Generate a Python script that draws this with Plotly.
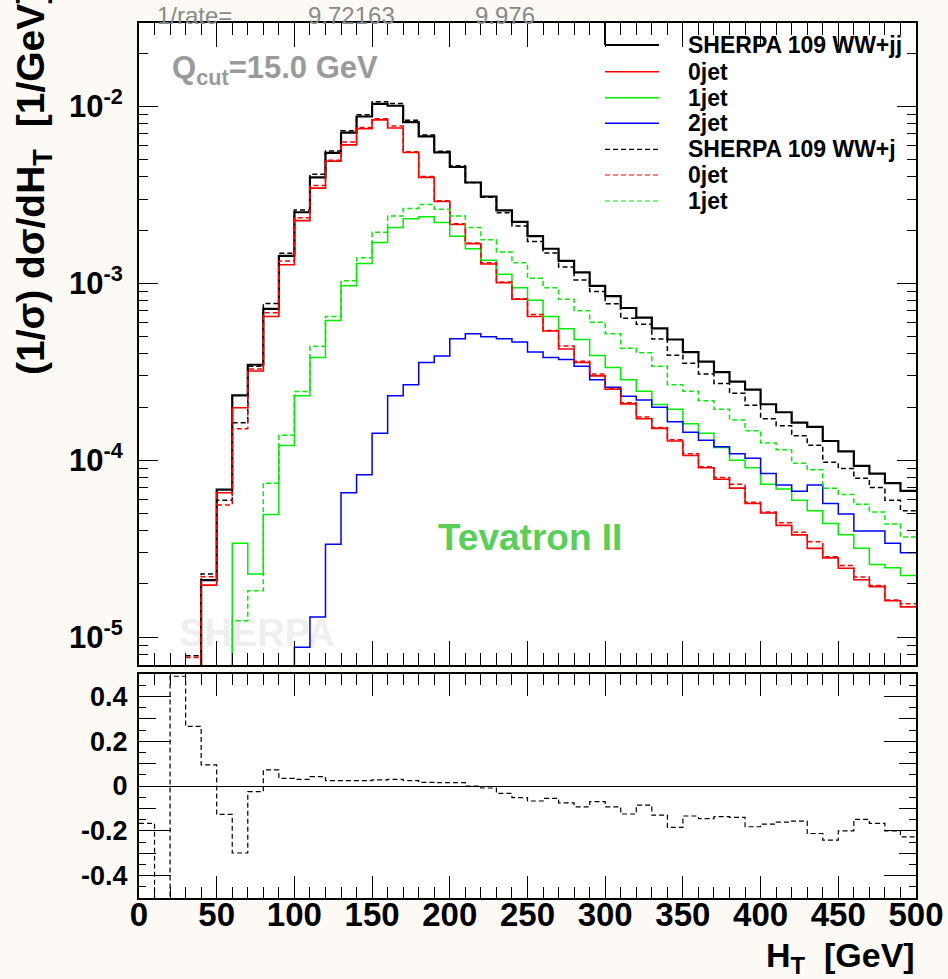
import plotly.graph_objects as go

# ---------------- data ----------------
N = None
bin_edges = list(range(0, 510, 10))          # H_T bin edges [GeV], 10 GeV bins

# SHERPA 109 WW+jj : total and jet multiplicities (solid)
ww_jj_total = [N, N, N, 6.2e-6, 2.1e-5, 6.82e-5, 2.33e-4, 3.47e-4, 7.18e-4, 1.43e-3,
               2.525e-3, 3.975e-3, 5.47e-3, 7.12e-3, 8.78e-3, 1.036e-2, 1.01e-2, 8.15e-3, 6.78e-3, 5.50e-3,
               4.55e-3, 3.72e-3, 3.10e-3, 2.59e-3, 2.23e-3, 1.85e-3, 1.57e-3, 1.34e-3, 1.154e-3, 9.69e-4,
               8.47e-4, 7.26e-4, 6.41e-4, 5.57e-4, 4.82e-4, 4.09e-4, 3.61e-4, 3.155e-4, 2.785e-4, 2.51e-4,
               2.075e-4, 1.87e-4, 1.633e-4, 1.546e-4, 1.286e-4, 1.124e-4, 9.30e-5, 8.41e-5, 7.43e-5, 6.72e-5]
ww_jj_0jet = [N, N, N, 6.0e-6, 1.97e-5, 6.56e-5, 1.984e-4, 3.20e-4, 6.50e-4, 1.275e-3,
              2.263e-3, 3.457e-3, 4.90e-3, 6.07e-3, 7.49e-3, 8.40e-3, 7.56e-3, 5.50e-3, 3.975e-3, 2.904e-3,
              2.152e-3, 1.677e-3, 1.288e-3, 1.0085e-3, 8.14e-4, 6.50e-4, 5.38e-4, 4.256e-4, 3.575e-4, 3.00e-4,
              2.522e-4, 2.086e-4, 1.717e-4, 1.516e-4, 1.286e-4, 1.064e-4, 9.07e-5, 7.81e-5, 6.96e-5, 5.70e-5,
              5.04e-5, 4.29e-5, 3.79e-5, 3.18e-5, 2.81e-5, 2.455e-5, 2.114e-5, 1.932e-5, 1.607e-5, 1.484e-5]
ww_jj_1jet = [N, N, N, N, N, 3.0e-6, 3.40e-5, 2.28e-5, 4.94e-5, 1.211e-4,
              2.316e-4, 3.81e-4, 6.18e-4, 9.69e-4, 1.294e-3, 1.702e-3, 2.068e-3, 2.32e-3, 2.378e-3, 2.206e-3,
              1.85e-3, 1.57e-3, 1.353e-3, 1.125e-3, 9.45e-4, 8.02e-4, 6.50e-4, 5.54e-4, 4.82e-4, 3.91e-4,
              3.35e-4, 2.855e-4, 2.459e-4, 2.065e-4, 1.945e-4, 1.609e-4, 1.421e-4, 1.181e-4, 1.002e-4, 9.07e-5,
              7.32e-5, 6.89e-5, 5.94e-5, 5.19e-5, 4.40e-5, 3.79e-5, 3.18e-5, 2.58e-5, 2.467e-5, 2.234e-5]
ww_jj_2jet = [N, N, N, N, N, N, N, N, N, 4.0e-6,
              8.78e-6, 1.30e-5, 3.35e-5, 6.56e-5, 8.29e-5, 1.421e-4, 2.316e-4, 2.677e-4, 3.575e-4, 3.89e-4,
              4.87e-4, 5.195e-4, 4.99e-4, 4.87e-4, 4.66e-4, 4.09e-4, 3.81e-4, 3.72e-4, 3.40e-4, 2.855e-4,
              2.585e-4, 2.305e-4, 2.193e-4, 1.995e-4, 1.65e-4, 1.442e-4, 1.299e-4, 1.193e-4, 1.091e-4, 1.027e-4,
              8.41e-5, 7.25e-5, 6.69e-5, 7.25e-5, 5.70e-5, 4.98e-5, 3.98e-5, 3.98e-5, 3.40e-5, 3.00e-5]

# SHERPA 109 WW+j : total and jet multiplicities (dashed)
ww_j_total = [N, N, N, 7.87e-6, 2.28e-5, 5.94e-5, 1.633e-4, 3.40e-4, 7.70e-4, 1.479e-3,
              2.60e-3, 4.14e-3, 5.60e-3, 7.29e-3, 8.99e-3, 1.064e-2, 1.040e-2, 8.35e-3, 6.89e-3, 5.58e-3,
              4.62e-3, 3.72e-3, 3.07e-3, 2.505e-3, 2.114e-3, 1.726e-3, 1.484e-3, 1.240e-3, 1.047e-3, 9.01e-4,
              7.68e-4, 6.35e-4, 5.87e-4, 4.85e-4, 3.93e-4, 3.54e-4, 3.08e-4, 2.72e-4, 2.395e-4, 2.05e-4,
              1.72e-4, 1.57e-4, 1.377e-4, 1.218e-4, 9.75e-5, 8.99e-5, 7.91e-5, 7.01e-5, 5.94e-5, 5.19e-5]
ww_j_0jet = [N, N, N, 7.67e-6, 2.2e-5, 5.59e-5, 1.509e-4, 3.28e-4, 6.83e-4, 1.34e-3,
             2.354e-3, 3.58e-3, 4.97e-3, 6.29e-3, 7.60e-3, 8.53e-3, 7.75e-3, 5.55e-3, 4.02e-3, 2.93e-3,
             2.174e-3, 1.694e-3, 1.307e-3, 1.0186e-3, 8.2e-4, 6.67e-4, 5.41e-4, 4.43e-4, 3.63e-4, 3.08e-4,
             2.546e-4, 2.117e-4, 1.760e-4, 1.531e-4, 1.305e-4, 1.091e-4, 9.21e-5, 8.00e-5, 7.32e-5, 5.79e-5,
             5.11e-5, 4.44e-5, 3.92e-5, 3.46e-5, 2.85e-5, 2.54e-5, 2.19e-5, 1.96e-5, 1.623e-5, 1.544e-5]
ww_j_1jet = [N, N, N, N, N, 3.0e-6, 1.24e-5, 1.83e-5, 7.43e-5, 1.386e-4,
             2.45e-4, 4.41e-4, 6.50e-4, 1.034e-3, 1.395e-3, 1.949e-3, 2.402e-3, 2.654e-3, 2.79e-3, 2.628e-3,
             2.402e-3, 2.068e-3, 1.763e-3, 1.503e-3, 1.307e-3, 1.071e-3, 9.45e-4, 8.14e-4, 7.01e-4, 6.03e-4,
             5.195e-4, 4.30e-4, 4.05e-4, 3.40e-4, 2.677e-4, 2.459e-4, 2.17e-4, 1.945e-4, 1.692e-4, 1.471e-4,
             1.254e-4, 1.147e-4, 9.63e-5, 8.845e-5, 6.96e-5, 6.40e-5, 5.645e-5, 5.11e-5, 4.36e-5, 3.68e-5]

# lower panel: relative deviation WW+j vs WW+jj
ratio_dev = [-0.167, -0.6, 0.49, 0.266, 0.094, -0.127, -0.299, -0.025, 0.072, 0.034,
             0.03, 0.042, 0.024, 0.024, 0.024, 0.027, 0.03, 0.024, 0.016, 0.015,
             0.015, 0.0, -0.009, -0.033, -0.052, -0.067, -0.055, -0.075, -0.093, -0.07,
             -0.093, -0.125, -0.085, -0.13, -0.185, -0.134, -0.146, -0.137, -0.14, -0.182,
             -0.17, -0.161, -0.157, -0.212, -0.242, -0.2, -0.149, -0.167, -0.2, -0.227]

legend_labels = ["SHERPA 109 WW+jj", "0jet", "1jet", "2jet", "SHERPA 109 WW+j", "0jet", "1jet"]
x_tick_vals = list(range(0, 501, 50))
y_tick_vals = [1e-5, 1e-4, 1e-3, 1e-2]
y_tick_text = ["10<sup>-5</sup>", "10<sup>-4</sup>", "10<sup>-3</sup>", "10<sup>-2</sup>"]
r_tick_vals = [-0.4, -0.2, 0, 0.2, 0.4]
r_tick_text = ["-0.4", "-0.2", "0", "0.2", "0.4"]
rate_texts = ["1/rate=", "9.72163", "9.976"]

for s in (ww_jj_total, ww_jj_0jet, ww_jj_1jet, ww_jj_2jet, ww_j_total, ww_j_0jet, ww_j_1jet, ratio_dev):
    assert len(s) == len(bin_edges) - 1

# ---------------- layout helpers ----------------
W, H = 948, 979
L, R, T, B = 139, 32, 23, 81
PW, PH = W - L - R, H - T - B
FONT = "Liberation Sans, Arial, Helvetica, sans-serif"


def px(xp):
    return (xp - L) / PW


def py(yp):
    return (H - B - yp) / PH


MAIN_BOTTOM = 665
RATIO_TOP = 674

RED, GREEN, BLUE = "#ff0000", "#00ee00", "#0000ff"
DASH = "5px,3px"

series = [
    (ww_jj_total, "black", 2.2, "solid"),
    (ww_jj_0jet, RED, 1.6, "solid"),
    (ww_jj_1jet, GREEN, 1.5, "solid"),
    (ww_jj_2jet, BLUE, 1.5, "solid"),
    (ww_j_total, "black", 1.5, DASH),
    (ww_j_0jet, RED, 1.5, DASH),
    (ww_j_1jet, GREEN, 1.5, DASH),
]

fig = go.Figure()


def step_y(vals):
    return list(vals) + [vals[-1]]


for vals, col, w, dash in series:
    fig.add_trace(go.Scatter(x=bin_edges, y=step_y(vals), mode="lines", line_shape="hv",
                             line=dict(color=col, width=w, dash=dash), xaxis="x", yaxis="y",
                             hoverinfo="skip"))

fig.add_trace(go.Scatter(x=bin_edges, y=step_y(ratio_dev), mode="lines", line_shape="hv",
                         line=dict(color="black", width=1.2, dash=DASH), xaxis="x2", yaxis="y2",
                         hoverinfo="skip"))
# empty trace to carry the medium-tick overlay axis of the lower panel
fig.add_trace(go.Scatter(x=[], y=[], xaxis="x2", yaxis="y3", hoverinfo="skip"))

tick_common = dict(ticks="inside", tickwidth=1, tickcolor="black", showline=True, linewidth=2,
                   linecolor="black", mirror="ticks", showgrid=False, zeroline=False)
minor_log = [m * 10.0 ** k for k in range(-6, -1) for m in range(2, 10)]
minor_ratio = [-0.45, -0.35, -0.25, -0.15, -0.05, 0.05, 0.15, 0.25, 0.35, 0.45]

fig.update_layout(
    width=W, height=H,
    margin=dict(l=L, r=R, t=T, b=B, pad=0, autoexpand=False),
    paper_bgcolor="#fdf9f5", plot_bgcolor="white", showlegend=False,
    font=dict(family=FONT, color="black"),
    xaxis=dict(domain=[0, 1], anchor="y", range=[0, 500], showticklabels=False,
               tickmode="array", tickvals=x_tick_vals, ticklen=24,
               minor=dict(ticks="inside", dtick=10, tick0=0, ticklen=12, tickwidth=1, tickcolor="black"),
               **tick_common),
    yaxis=dict(domain=[py(MAIN_BOTTOM), 1], anchor="x", type="log", range=[-5.157, -1.528],
               tickmode="array", tickvals=y_tick_vals, ticktext=y_tick_text, ticklen=19,
               tickfont=dict(family=FONT, size=31, color="black", weight="bold"), ticklabelstandoff=8,
               minor=dict(ticks="inside", tickmode="array", tickvals=minor_log, ticklen=9,
                          tickwidth=1, tickcolor="black"),
               **tick_common),
    xaxis2=dict(domain=[0, 1], anchor="y2", range=[0, 500], tickmode="array", tickvals=x_tick_vals,
                ticktext=[str(v) for v in x_tick_vals], ticklen=22,
                tickfont=dict(family=FONT, size=33, color="black", weight="bold"), ticklabelstandoff=-14,
                minor=dict(ticks="inside", dtick=10, tick0=0, ticklen=11, tickwidth=1, tickcolor="black"),
                **tick_common),
    yaxis2=dict(domain=[0, py(RATIO_TOP)], anchor="x2", range=[-0.5, 0.5], tickmode="array",
                tickvals=r_tick_vals, ticktext=r_tick_text, ticklen=32,
                tickfont=dict(family=FONT, size=27, color="black", weight="bold"), ticklabelstandoff=4,
                minor=dict(ticks="inside", tickmode="array", tickvals=minor_ratio, ticklen=7,
                           tickwidth=1, tickcolor="black"),
                ticks="inside", tickwidth=1, tickcolor="black", showline=True, linewidth=2,
                linecolor="black", mirror="ticks", showgrid=False,
                zeroline=True, zerolinecolor="black", zerolinewidth=1),
    yaxis3=dict(overlaying="y2", anchor="x2", side="left", range=[-0.5, 0.5], tickmode="array",
                tickvals=[-0.3, -0.1, 0.1, 0.3], ticks="inside", ticklen=17, tickwidth=1,
                tickcolor="black", showticklabels=False, showline=False, mirror="ticks",
                showgrid=False, zeroline=False),
)

ann = []
# "1/rate=" line at the very top
for txt, xl in zip(rate_texts, (155, 306, 473)):
    ann.append(dict(text=txt, xref="paper", yref="paper", x=px(xl), y=py(15), xanchor="left",
                    yanchor="middle", showarrow=False,
                    font=dict(family=FONT, size=24, color="#8a8a8a")))
ann.append(dict(text="Q<sub>cut</sub>=15.0 GeV", xref="paper", yref="paper", x=px(170), y=py(70),
                xanchor="left", yanchor="middle", showarrow=False,
                font=dict(family=FONT, size=31, color="#9a9a9a", weight="bold")))
ann.append(dict(text="Tevatron II", xref="paper", yref="paper", x=px(436), y=py(537),
                xanchor="left", yanchor="middle", showarrow=False,
                font=dict(family=FONT, size=37, color="#58d058", weight="bold")))
# axis titles
ann.append(dict(text="H<sub>T</sub>\u00a0\u00a0[GeV]", xref="paper", yref="paper", x=px(917), y=py(957),
                xanchor="right", yanchor="middle", showarrow=False,
                font=dict(family=FONT, size=34, color="black", weight="bold")))
ann.append(dict(text="(1/\u03c3) d\u03c3/dH<sub>T</sub>\u00a0\u00a0[1/GeV]", xref="paper", yref="paper",
                x=px(33), y=py(377), xanchor="center", yanchor="bottom", textangle=-90, showarrow=False,
                font=dict(family=FONT, size=39, color="black", weight="bold")))

# legend (drawn by hand to mimic the ROOT legend box)
leg_rows = [45, 71.7, 97.7, 123.3, 149.3, 175, 201]
leg_styles = [("black", 2.0, "solid"), (RED, 1.6, "solid"), (GREEN, 1.5, "solid"), (BLUE, 1.5, "solid"),
              ("black", 1.2, DASH), (RED, 1.2, DASH), (GREEN, 1.2, DASH)]
shapes = []
for i, (lab, yrow, (col, w, dash)) in enumerate(zip(legend_labels, leg_rows, leg_styles)):
    ann.append(dict(text=lab, xref="paper", yref="paper", x=px(686), y=py(yrow), xanchor="left",
                    yanchor="middle", showarrow=False,
                    font=dict(family=FONT, size=23, color="black", weight="bold")))
    shapes.append(dict(type="line", xref="paper", yref="paper", x0=px(605), x1=px(659),
                       y0=py(yrow), y1=py(yrow), line=dict(color=col, width=w, dash=dash)))
    if i == 0:
        shapes.append(dict(type="line", xref="paper", yref="paper", x0=px(605), x1=px(605),
                           y0=py(T), y1=py(yrow), line=dict(color=col, width=w)))

# faint SHERPA watermark, kept beneath the histograms
shapes.append(dict(type="rect", xref="paper", yref="paper", x0=px(176), x1=px(338),
                   y0=py(648), y1=py(610), layer="below", line=dict(width=0),
                   fillcolor="rgba(0,0,0,0)",
                   label=dict(text="<b>SHERPA</b>", textposition="middle center",
                              font=dict(family=FONT, size=38, color="#efefef"))))

fig.update_layout(annotations=ann, shapes=shapes)
fig.write_html("out.html")
